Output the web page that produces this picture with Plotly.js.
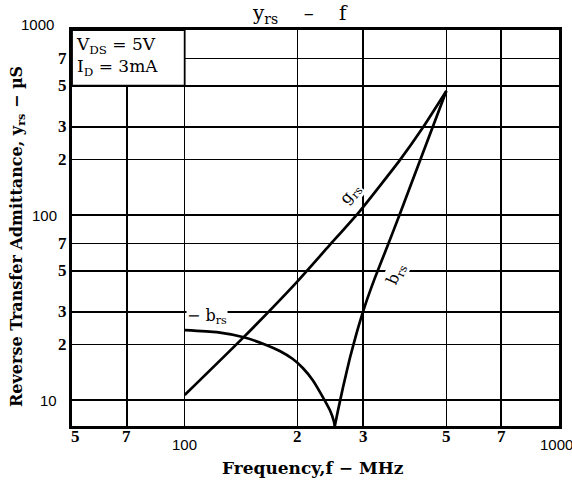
<!DOCTYPE html>
<html>
<head>
<meta charset="utf-8">
<script src="https://cdn.plot.ly/plotly-3.0.1.min.js"></script>
<style>html,body{margin:0;padding:0;background:#fff;}#chart{width:572px;height:488px;}</style>
</head>
<body>
<div id="chart"></div>
<script>
// Data (frequency in MHz, admittance in µS)
var freqG = [100, 142.9, 199.3, 244.2, 293.8, 375.7, 432.9, 500];
var gRs   = [10.64, 21.6, 43.4, 68.9, 105.1, 198, 297, 468];

var freqBneg = [100, 121.8, 142.9, 165.7, 179.5, 194.5, 206.8, 219.9, 233.9, 244.2, 250.3, 251.8];
var bNeg     = [23.9, 23.3, 21.9, 19.8, 18.4, 16.66, 14.9, 12.8, 10.38, 8.83, 7.7, 7.24];

var freqBpos = [251.8, 256.6, 264.6, 276.3, 288.4, 302.9, 322.1, 349, 375.7, 424.9, 500];
var bPos     = [7.24, 8.72, 11.61, 16.87, 23.3, 32.2, 45.6, 68.8, 101.3, 195.8, 468];

var xGrid = [70, 100, 200, 300, 500, 700];
var yGrid = [10, 20, 30, 50, 70, 100, 200, 300, 500, 700];

var xTickVals = [50, 70, 100, 200, 300, 500, 700, 1000];
var xTickText = ['5', '7', '100', '2', '3', '5', '7', '1000'];
var yTickVals = [7, 10, 20, 30, 50, 70, 100, 200, 300, 500, 700, 1000];
var yTickText = ['7', '10', '2', '3', '5', '7', '100', '2', '3', '5', '7', '1000'];

var serif = 'Liberation Serif, DejaVu Serif, serif';
var wide = 'DejaVu Serif, Liberation Serif, serif';
var sans = 'Liberation Sans, Arial, sans-serif';
var L = Math.log10;

var lineStyle = {color: '#000', width: 2.7, shape: 'spline', smoothing: 0.5};
var traces = [
  {x: freqG, y: gRs, mode: 'lines', line: lineStyle, hoverinfo: 'skip'},
  {x: freqBneg, y: bNeg, mode: 'lines', line: lineStyle, hoverinfo: 'skip'},
  {x: freqBpos, y: bPos, mode: 'lines', line: lineStyle, hoverinfo: 'skip'}
];

var ann = [];
// x tick labels
for (var i = 0; i < xTickVals.length; i++) {
  var t = xTickText[i];
  var isNum = t.length > 1;
  var a = {
    xref: 'x', yref: 'paper', x: L(xTickVals[i]), y: 0,
    xanchor: 'center', yanchor: 'top', showarrow: false,
    text: isNum ? t : '<b>' + t + '</b>',
    font: isNum ? {family: sans, size: 15, color: '#000'} : {family: serif, size: 17, color: '#000'},
    yshift: isNum ? -8 : 1
  };
  if (i === 0) { a.xshift = 3; }
  if (i === xTickVals.length - 1) { a.xshift = -3; }
  ann.push(a);
}
// y tick labels
for (var j = 0; j < yTickVals.length; j++) {
  var s = yTickText[j];
  var num = s.length > 1;
  var b = {
    xref: 'paper', yref: 'y', x: 0, y: L(yTickVals[j]),
    xanchor: 'right', yanchor: 'middle', showarrow: false,
    text: num ? s : '<b>' + s + '</b>',
    font: num ? {family: sans, size: 15, color: '#000'} : {family: serif, size: 17, color: '#000'},
    xshift: num ? -13 : -3
  };
  if (yTickVals[j] === 1000) { b.yshift = 6; b.xshift = -16; }
  if (yTickVals[j] === 7 && j === 0) { b.yshift = 6; }
  ann.push(b);
}
// curve labels
ann.push({xref: 'x', yref: 'y', x: L(115), y: L(28.2), text: '− b<sub>rs</sub>', showarrow: false,
  font: {family: wide, size: 16, color: '#000'}, bgcolor: '#fff', borderpad: 0});
ann.push({xref: 'x', yref: 'y', x: L(278), y: L(130), text: 'g<sub>rs</sub>', showarrow: false, textangle: -50,
  font: {family: wide, size: 16, color: '#000'}, bgcolor: '#fff', borderpad: 0});
ann.push({xref: 'x', yref: 'y', x: L(366), y: L(48), text: 'b<sub>rs</sub>', showarrow: false, textangle: -66,
  font: {family: wide, size: 16, color: '#000'}, bgcolor: '#fff', borderpad: 0});
// conditions box text
ann.push({xref: 'paper', yref: 'paper', x: 0, y: 1, xanchor: 'left', yanchor: 'top', xshift: 2, yshift: -2,
  align: 'left', showarrow: false,
  text: 'V<sub>DS</sub> = 5V<br>I<sub>D</sub> = 3mA',
  font: {family: wide, size: 17, color: '#000'}});
// chart title
ann.push({xref: 'paper', yref: 'paper', x: 0.468, y: 1, yanchor: 'bottom', yshift: 1, showarrow: false,
  text: 'y<sub>rs</sub>    –    f', font: {family: wide, size: 20, color: '#000'}});
// axis titles
ann.push({xref: 'paper', yref: 'paper', x: 0.5, y: 0, xanchor: 'center', yanchor: 'middle',
  xshift: -3, yshift: -42, showarrow: false,
  text: '<b>Frequency,f − MHz</b>', font: {family: wide, size: 17, color: '#000'}});
ann.push({xref: 'paper', yref: 'paper', x: 0, y: 0.5, xanchor: 'center', yanchor: 'middle',
  xshift: -55, yshift: -9, textangle: -90, showarrow: false,
  text: '<b>Reverse Transfer Admittance, y<sub>rs</sub> − µS</b>', font: {family: wide, size: 16, color: '#000'}});

var layout = {
  width: 572, height: 488,
  margin: {l: 72, r: 13, t: 30, b: 62},
  paper_bgcolor: '#fff', plot_bgcolor: '#fff',
  showlegend: false,
  xaxis: {
    type: 'log', range: [L(50), L(1000)],
    tickvals: xGrid, showticklabels: false, ticks: '',
    showgrid: true, gridcolor: '#000', gridwidth: 1.6,
    showline: true, linecolor: '#000', linewidth: 2.6, mirror: true, zeroline: false
  },
  yaxis: {
    type: 'log', range: [L(7.24), 3],
    tickvals: yGrid, showticklabels: false, ticks: '',
    showgrid: true, gridcolor: '#000', gridwidth: 1.6,
    showline: true, linecolor: '#000', linewidth: 2.6, mirror: true, zeroline: false
  },
  shapes: [
    {type: 'rect', layer: 'above', xref: 'x', yref: 'y', x0: 50, x1: 100, y0: 500, y1: 1000,
     fillcolor: '#fff', line: {color: '#000', width: 1.8}}
  ],
  annotations: ann
};

Plotly.newPlot('chart', traces, layout, {staticPlot: true, displayModeBar: false});
</script>
</body>
</html>
